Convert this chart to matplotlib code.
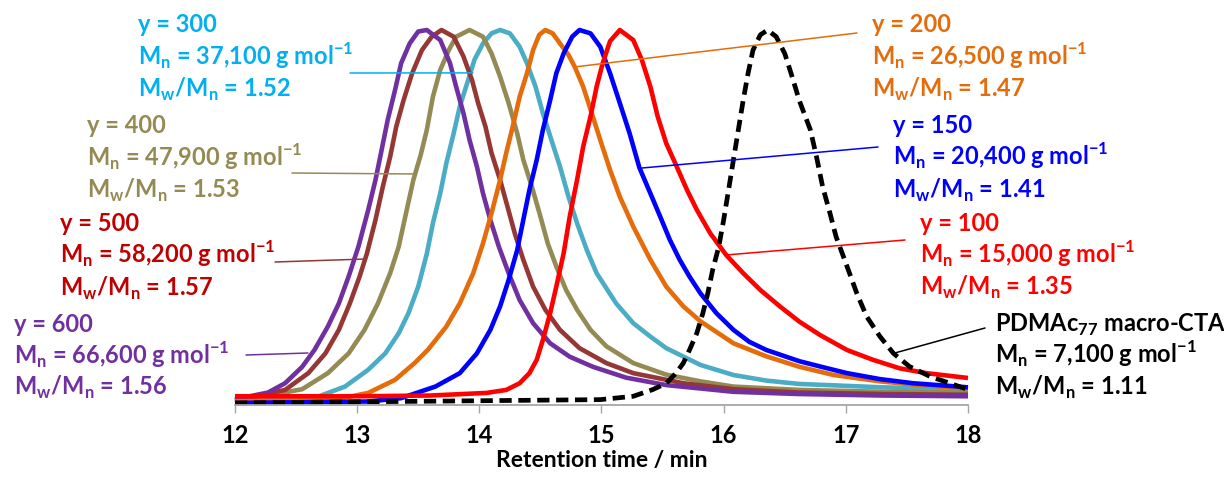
import matplotlib
matplotlib.use('Agg')
import matplotlib.pyplot as plt

# ---------------- data ----------------
t_600 = [12.00, 12.27, 12.41, 12.55, 12.65, 12.76, 12.85, 12.93, 13.01, 13.09, 13.15, 13.20, 13.25, 13.31,
         13.36, 13.43, 13.50, 13.57, 13.68, 13.76, 13.81, 13.87, 13.92, 13.98, 14.03, 14.09, 14.16, 14.24,
         14.33, 14.44, 14.58, 14.74, 14.93, 15.20, 15.53, 16.08, 16.62, 17.30, 18.00]
i_600 = [0.010, 0.028, 0.053, 0.097, 0.142, 0.205, 0.267, 0.339, 0.419, 0.517, 0.598, 0.678, 0.759, 0.839,
         0.911, 0.964, 0.996, 1.000, 0.973, 0.911, 0.848, 0.777, 0.705, 0.634, 0.562, 0.491, 0.419, 0.348,
         0.276, 0.214, 0.160, 0.124, 0.097, 0.068, 0.048, 0.030, 0.024, 0.020, 0.018]

t_500 = [12.00, 12.41, 12.60, 12.74, 12.85, 12.94, 13.02, 13.08, 13.15, 13.21, 13.27, 13.32, 13.38, 13.45,
         13.53, 13.61, 13.69, 13.79, 13.87, 13.94, 13.99, 14.05, 14.10, 14.17, 14.23, 14.29, 14.36, 14.44,
         14.54, 14.66, 14.82, 15.04, 15.26, 15.67, 16.08, 16.62, 17.30, 18.00]
i_500 = [0.006, 0.035, 0.080, 0.133, 0.196, 0.267, 0.339, 0.401, 0.491, 0.580, 0.660, 0.741, 0.812, 0.884,
         0.946, 0.982, 1.000, 0.982, 0.929, 0.866, 0.804, 0.741, 0.670, 0.598, 0.527, 0.455, 0.384, 0.312,
         0.250, 0.196, 0.147, 0.107, 0.080, 0.053, 0.037, 0.028, 0.024, 0.022]

t_400 = [12.00, 12.55, 12.76, 12.93, 13.06, 13.17, 13.27, 13.34, 13.40, 13.46, 13.52, 13.57, 13.62, 13.68,
         13.75, 13.81, 13.92, 14.03, 14.10, 14.17, 14.24, 14.31, 14.36, 14.43, 14.50, 14.56, 14.63, 14.71,
         14.80, 14.91, 15.04, 15.26, 15.53, 15.81, 16.08, 16.62, 17.30, 18.00]
i_400 = [0.003, 0.037, 0.080, 0.133, 0.196, 0.267, 0.348, 0.419, 0.509, 0.598, 0.665, 0.732, 0.821, 0.893,
         0.946, 0.982, 1.000, 0.982, 0.937, 0.875, 0.804, 0.723, 0.652, 0.580, 0.500, 0.428, 0.366, 0.303,
         0.250, 0.196, 0.152, 0.107, 0.076, 0.058, 0.044, 0.035, 0.030, 0.028]

t_300 = [12.00, 12.68, 12.90, 13.09, 13.23, 13.34, 13.42, 13.50, 13.57, 13.62, 13.68, 13.73, 13.79, 13.84,
         13.90, 13.96, 14.03, 14.10, 14.17, 14.25, 14.33, 14.39, 14.46, 14.52, 14.59, 14.66, 14.73, 14.80,
         14.88, 14.96, 15.12, 15.26, 15.40, 15.53, 15.81, 16.08, 16.35, 16.62, 17.30, 18.00]
i_300 = [0.000, 0.017, 0.044, 0.089, 0.133, 0.187, 0.241, 0.312, 0.400, 0.482, 0.562, 0.643, 0.723, 0.795,
         0.857, 0.920, 0.964, 0.991, 1.000, 0.991, 0.955, 0.911, 0.848, 0.777, 0.705, 0.634, 0.553, 0.482,
         0.410, 0.348, 0.267, 0.214, 0.178, 0.147, 0.102, 0.075, 0.060, 0.051, 0.042, 0.036]

t_200 = [12.00, 12.82, 13.09, 13.31, 13.47, 13.58, 13.73, 13.84, 13.95, 14.03, 14.10, 14.17, 14.22, 14.28,
         14.33, 14.39, 14.44, 14.49, 14.54, 14.60, 14.66, 14.73, 14.78, 14.85, 14.92, 14.99, 15.07, 15.15,
         15.26, 15.40, 15.53, 15.67, 15.81, 16.08, 16.35, 16.62, 16.90, 17.28, 17.60, 18.00]
i_200 = [0.005, 0.009, 0.027, 0.062, 0.107, 0.143, 0.205, 0.267, 0.348, 0.428, 0.509, 0.598, 0.670, 0.750,
         0.821, 0.884, 0.946, 0.987, 1.000, 0.991, 0.964, 0.933, 0.902, 0.848, 0.777, 0.705, 0.625, 0.553,
         0.473, 0.384, 0.312, 0.259, 0.219, 0.160, 0.125, 0.097, 0.075, 0.058, 0.048, 0.040]

t_150 = [12.00, 13.09, 13.36, 13.64, 13.84, 13.98, 14.09, 14.17, 14.24, 14.31, 14.36, 14.41, 14.47, 14.52,
         14.58, 14.63, 14.69, 14.76, 14.82, 14.91, 14.99, 15.07, 15.15, 15.23, 15.31, 15.40, 15.48, 15.56,
         15.64, 15.72, 15.81, 15.94, 16.08, 16.21, 16.35, 16.62, 16.80, 17.01, 17.28, 17.55, 18.00]
i_150 = [0.000, 0.004, 0.013, 0.044, 0.080, 0.133, 0.196, 0.259, 0.330, 0.410, 0.491, 0.571, 0.652, 0.732,
         0.812, 0.884, 0.937, 0.982, 1.000, 0.991, 0.955, 0.884, 0.804, 0.723, 0.631, 0.562, 0.500, 0.437,
         0.384, 0.339, 0.294, 0.241, 0.196, 0.164, 0.142, 0.112, 0.097, 0.080, 0.064, 0.053, 0.042]

t_100 = [12.00, 13.00, 13.60, 14.06, 14.22, 14.33, 14.41, 14.47, 14.52, 14.58, 14.63, 14.69, 14.74, 14.80,
         14.85, 14.91, 14.96, 15.01, 15.07, 15.15, 15.26, 15.33, 15.40, 15.46, 15.53, 15.61, 15.70, 15.78,
         15.89, 16.02, 16.16, 16.30, 16.46, 16.62, 16.79, 17.01, 17.22, 17.44, 17.66, 18.00]
i_100 = [0.018, 0.018, 0.020, 0.027, 0.035, 0.053, 0.080, 0.116, 0.169, 0.241, 0.312, 0.401, 0.500, 0.598,
         0.687, 0.768, 0.848, 0.911, 0.970, 1.000, 0.973, 0.920, 0.848, 0.768, 0.696, 0.638, 0.571, 0.518,
         0.455, 0.397, 0.348, 0.303, 0.259, 0.218, 0.182, 0.142, 0.116, 0.093, 0.080, 0.067]

t_cta = [12.00, 14.99, 15.26, 15.42, 15.53, 15.61, 15.67, 15.72, 15.78, 15.83, 15.87, 15.91, 15.96, 16.00,
         16.04, 16.08, 16.12, 16.16, 16.20, 16.24, 16.30, 16.36, 16.43, 16.50, 16.56, 16.62, 16.71, 16.76,
         16.81, 16.87, 16.92, 17.01, 17.09, 17.17, 17.28, 17.39, 17.52, 17.69, 17.85, 18.00]
i_cta = [0.000, 0.009, 0.018, 0.036, 0.053, 0.080, 0.107, 0.142, 0.187, 0.241, 0.294, 0.357, 0.419, 0.491,
         0.571, 0.652, 0.732, 0.812, 0.884, 0.946, 0.987, 1.000, 0.982, 0.937, 0.875, 0.810, 0.732, 0.660,
         0.580, 0.509, 0.446, 0.366, 0.294, 0.232, 0.178, 0.133, 0.098, 0.071, 0.053, 0.036]

x_ticks = [12, 13, 14, 15, 16, 17, 18]
x_label = "Retention time / min"

labels_300 = ["y = 300", "M$_\\mathregular{n}$ = 37,100 g mol$^\\mathregular{-1}$", "M$_\\mathregular{w}$/M$_\\mathregular{n}$ = 1.52"]
labels_400 = ["y = 400", "M$_\\mathregular{n}$ = 47,900 g mol$^\\mathregular{-1}$", "M$_\\mathregular{w}$/M$_\\mathregular{n}$ = 1.53"]
labels_500 = ["y = 500", "M$_\\mathregular{n}$ = 58,200 g mol$^\\mathregular{-1}$", "M$_\\mathregular{w}$/M$_\\mathregular{n}$ = 1.57"]
labels_600 = ["y = 600", "M$_\\mathregular{n}$ = 66,600 g mol$^\\mathregular{-1}$", "M$_\\mathregular{w}$/M$_\\mathregular{n}$ = 1.56"]
labels_200 = ["y = 200", "M$_\\mathregular{n}$ = 26,500 g mol$^\\mathregular{-1}$", "M$_\\mathregular{w}$/M$_\\mathregular{n}$ = 1.47"]
labels_150 = ["y = 150", "M$_\\mathregular{n}$ = 20,400 g mol$^\\mathregular{-1}$", "M$_\\mathregular{w}$/M$_\\mathregular{n}$ = 1.41"]
labels_100 = ["y = 100", "M$_\\mathregular{n}$ = 15,000 g mol$^\\mathregular{-1}$", "M$_\\mathregular{w}$/M$_\\mathregular{n}$ = 1.35"]
labels_cta = ["PDMAc$_\\mathregular{77}$ macro-CTA", "M$_\\mathregular{n}$ = 7,100 g mol$^\\mathregular{-1}$", "M$_\\mathregular{w}$/M$_\\mathregular{n}$ = 1.11"]

# ---------------- figure ----------------
W, H = 1224, 478
fig = plt.figure(figsize=(W / 100, H / 100), dpi=100)
ax = fig.add_axes([235 / W, (H - 405) / H, 733 / W, 380 / H])
ax.set_xlim(12, 18)
ax.set_ylim(-0.0054, 1.0134)

LW = 3.3
series = [
    (t_300, i_300, '#4BACC6'),
    (t_400, i_400, '#948A54'),
    (t_500, i_500, '#953735'),
    (t_600, i_600, '#7030A0'),
    (t_200, i_200, '#E46C0A'),
    (t_150, i_150, '#0000FF'),
    (t_100, i_100, '#FF0000'),
]
for t, i, c in series:
    ax.plot(t, i, color=c, lw=LW, solid_capstyle='butt', solid_joinstyle='round', clip_on=False)
ax.plot(t_cta, i_cta, color='black', lw=3.4, linestyle=(0, (2.6, 1.4)), clip_on=False)

for s in ['top', 'right', 'left']:
    ax.spines[s].set_visible(False)
ax.spines['bottom'].set_color('#A6A6A6')
ax.spines['bottom'].set_linewidth(1.3)
ax.set_yticks([])
ax.set_xticks(x_ticks)
ax.tick_params(axis='x', direction='out', length=6, width=1, color='#A6A6A6', pad=8)
tick_font = ['Lato', 'DejaVu Sans']
ax.set_xticklabels([str(v) for v in x_ticks], fontfamily=tick_font, fontweight='bold', fontsize=17)
ax.set_xlabel(x_label, fontfamily=tick_font, fontweight='bold', fontsize=16.5, labelpad=2)

# ---------------- annotations ----------------
FONT = ['Lato', 'DejaVu Sans']
FS = 17

def block(lines, px, baselines, color):
    for s, b in zip(lines, baselines):
        fig.text(px / W, 1 - b / H, s, color=color, fontsize=FS, fontweight='bold',
                 family=FONT, ha='left', va='baseline', transform=fig.transFigure)

block(labels_300, 138, [32.5, 65, 97], '#00B0F0')
block(labels_400, 87, [133, 166, 198], '#948A54')
block(labels_500, 60, [231, 263, 296], '#C00000')
block(labels_600, 14, [332, 364, 395], '#7030A0')
block(labels_200, 872, [32.5, 65, 97], '#E46C0A')
block(labels_150, 893, [133, 165, 198], '#0000FF')
block(labels_100, 920, [231, 263, 295], '#FF0000')
block(labels_cta, 995, [332, 363, 395], 'black')

def connector(xy_data, px, py, color):
    ax.annotate('', xy=xy_data, xycoords='data', xytext=(px, H - py), textcoords='figure pixels',
                arrowprops=dict(arrowstyle='-', color=color, lw=1.1, shrinkA=0, shrinkB=0))

connector((13.948, 0.885), 350, 73, '#00B0F0')
connector((13.457, 0.614), 292, 173, '#948A54')
connector((13.064, 0.386), 275, 262, '#953735')
connector((12.597, 0.134), 246, 355, '#7030A0')
connector((14.782, 0.901), 857, 33, '#E46C0A')
connector((15.331, 0.630), 878, 147, '#0000FF')
connector((16.026, 0.397), 905, 240, '#FF0000')
connector((17.401, 0.134), 985, 328, 'black')

fig.savefig('out.png', dpi=100)
